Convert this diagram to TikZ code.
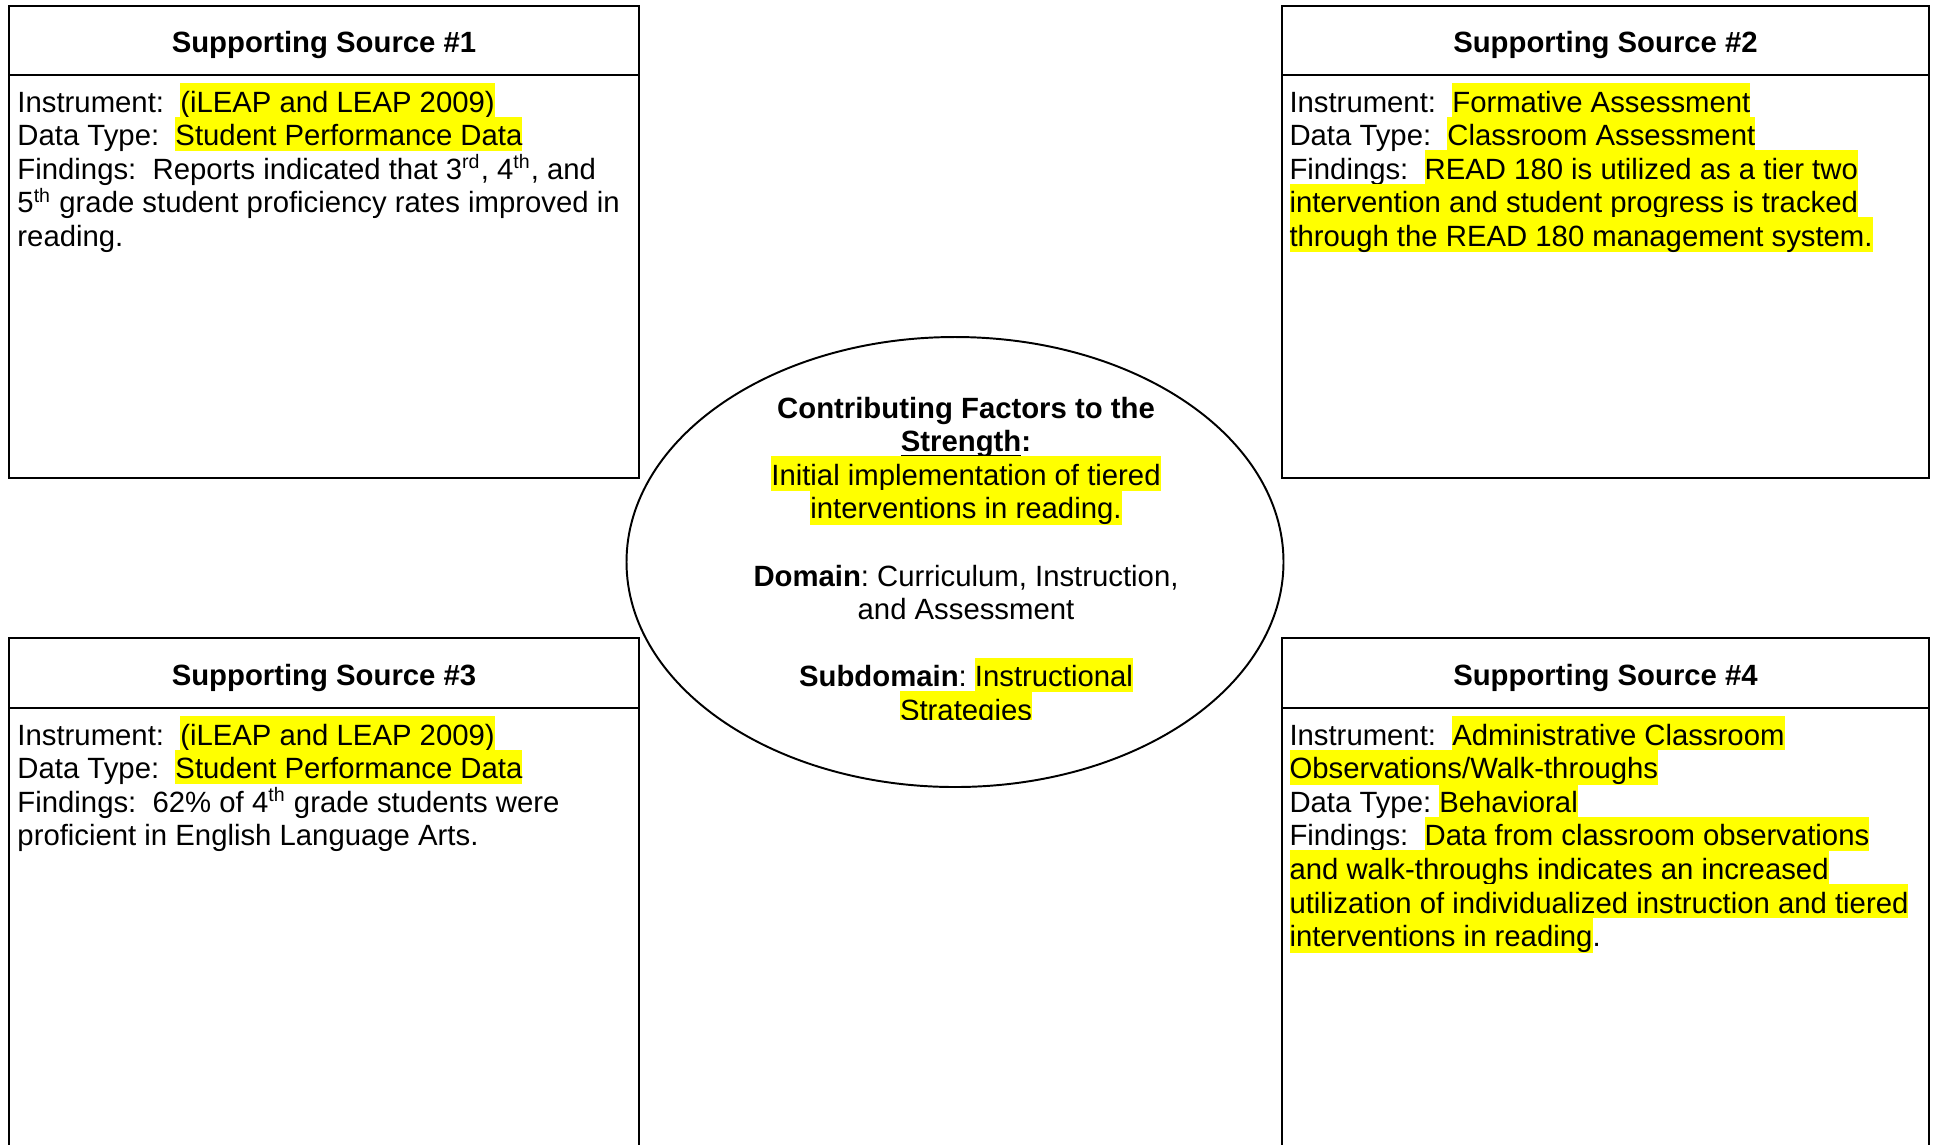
\documentclass[tikz,border=0pt]{standalone}
\usepackage{fontspec}
\setmainfont{Liberation Sans}
\usetikzlibrary{shapes.geometric}
\definecolor{hly}{RGB}{255,255,0}
\newcommand\hl[1]{{\setlength{\fboxsep}{0pt}\colorbox{hly}{\rule[-2.05pt]{0pt}{13.95pt}#1}}}
\newsavebox\ulsave
\newcommand\ulword[1]{\sbox\ulsave{#1}\rlap{\rule[-2.4pt]{\wd\ulsave}{1.1pt}}\usebox\ulsave}
\frenchspacing
\begin{document}
\begin{tikzpicture}[x=0.40951pt,y=-0.40951pt,
  txt/.style={anchor=base west,inner sep=0pt,font=\fontsize{12}{13.8}\selectfont\frenchspacing},
  ctxt/.style={anchor=base,inner sep=0pt,font=\fontsize{12}{13.8}\selectfont\frenchspacing},
  head/.style={anchor=base,inner sep=0pt,font=\fontsize{12}{13.8}\selectfont\bfseries},
  frame/.style={line width=0.55pt,line cap=rect},
  oval/.style={ellipse,draw,line width=0.8pt,inner sep=0pt,minimum width=269.05pt,minimum height=184.28pt}]
\useasboundingbox (0,0) rectangle (1934,1144);
\begin{scope}
\clip (0,0) rectangle (1934,1144);
% frames
\draw[frame] (9,6) rectangle (639,478);
\draw[frame] (9,75) -- (639,75);
\draw[frame] (1282,6) rectangle (1929,478);
\draw[frame] (1282,75) -- (1929,75);
\draw[frame] (9,1160) -- (9,638) -- (639,638) -- (639,1160);
\draw[frame] (9,708) -- (639,708);
\draw[frame] (1282,1160) -- (1282,638) -- (1929,638) -- (1929,1160);
\draw[frame] (1282,708) -- (1929,708);
\end{scope}
% central oval
\node[oval] (core) at (955,562) {};
% headers
\node[head] (h1) at (324,52.2) {Supporting Source \#1};
\node[head] (h2) at (1605.5,52.2) {Supporting Source \#2};
\node[head] (h3) at (324,685.5) {Supporting Source \#3};
\node[head] (h4) at (1605.5,685.5) {Supporting Source \#4};
% box 1
\node[txt] (a1) at (17,112) {Instrument:\ \ \hl{(iLEAP and LEAP 2009)}};
\node[txt] (a2) at (17,145.6) {Data Type:\ \ \hl{Student Performance Data}};
\node[txt] (a3) at (17,179.2) {Findings:\ \ Reports indicated that 3\textsuperscript{rd}, 4\textsuperscript{th}, and};
\node[txt] (a4) at (17,212.8) {5\textsuperscript{th} grade student proficiency rates improved in};
\node[txt] (a5) at (17,246.4) {reading.};
% box 2
\node[txt] (b1) at (1289,112) {Instrument:\ \ \hl{Formative Assessment}};
\node[txt] (b2) at (1289,145.6) {Data Type:\ \ \hl{Classroom Assessment}};
\node[txt] (b3) at (1289,179.2) {Findings:\ \ \hl{READ 180 is utilized as a tier two}};
\node[txt] (b4) at (1289,212.8) {\hl{intervention and student progress is tracked}};
\node[txt] (b5) at (1289,246.4) {\hl{through the READ 180 management system.}};
% box 3
\node[txt] (c1) at (17,745) {Instrument:\ \ \hl{(iLEAP and LEAP 2009)}};
\node[txt] (c2) at (17,778.6) {Data Type:\ \ \hl{Student Performance Data}};
\node[txt] (c3) at (17,812.2) {Findings:\ \ 62\% of 4\textsuperscript{th} grade students were};
\node[txt] (c4) at (17,845.8) {proficient in English Language Arts.};
% box 4
\node[txt] (d1) at (1289,745) {Instrument:\ \ \hl{Administrative Classroom}};
\node[txt] (d2) at (1289,778.6) {\hl{Observations/Walk-throughs}};
\node[txt] (d3) at (1289,812.2) {Data Type:\ \hl{Behavioral}};
\node[txt] (d4) at (1289,845.8) {Findings:\ \ \hl{Data from classroom observations}};
\node[txt] (d5) at (1289,879.4) {\hl{and walk-throughs indicates an increased}};
\node[txt] (d6) at (1289,913) {\hl{utilization of individualized instruction and tiered}};
\node[txt] (d7) at (1289,946.6) {\hl{interventions in reading}.};
% oval text
\node[ctxt] (e1) at (966,418) {\textbf{Contributing Factors to the}};
\node[ctxt] (e2) at (966,451.6) {\textbf{\ulword{Strength}:}};
\node[ctxt] (e3) at (966,485.2) {\hl{Initial implementation of tiered}};
\node[ctxt] (e4) at (966,518.8) {\hl{interventions in reading.}};
\node[ctxt] (e5) at (966,586) {\textbf{Domain}: Curriculum, Instruction,};
\node[ctxt] (e6) at (966,619.6) {and Assessment};
\node[ctxt] (e7) at (966,686.8) {\textbf{Subdomain}: \hl{Instructional}};
\begin{scope}
\clip (800,690) rectangle (1130,719.5);
\node[ctxt] (e8) at (966,720.4) {\hl{Strategies}};
\end{scope}
\end{tikzpicture}
\end{document}
